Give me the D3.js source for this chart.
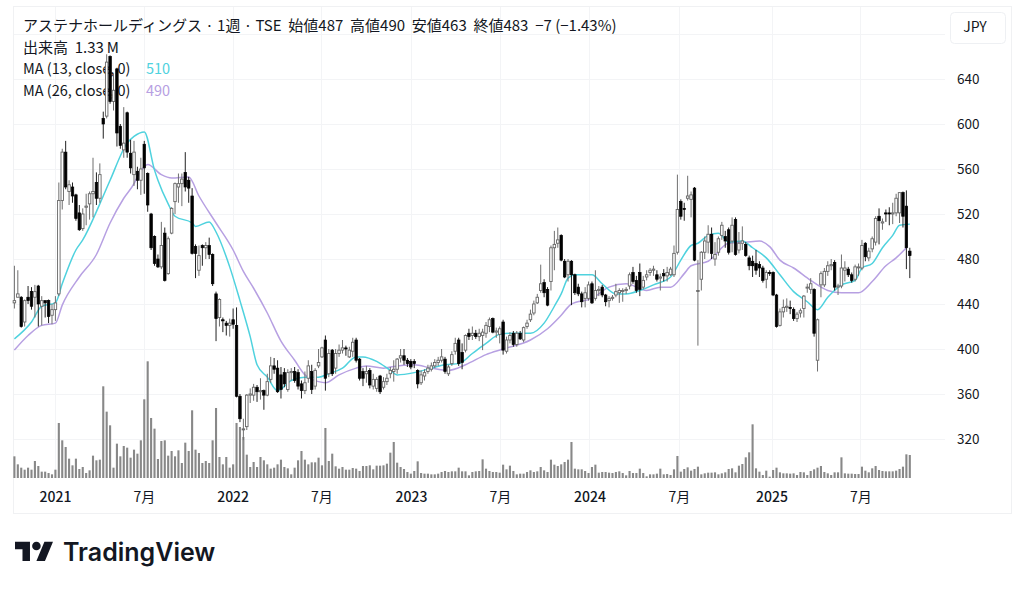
<!DOCTYPE html>
<html lang="ja">
<head>
<meta charset="utf-8">
<script type="text/javascript" src="https://cdn.jsdelivr.net/npm/d3@7"></script>
<style>
html, body { margin:0; padding:0; background:#fff; }
svg { display:block; }
text { font-family:"Noto Sans CJK JP","Noto Sans",sans-serif; fill:#131722; font-size:13.5px; }
.grid { stroke:#f3f4f6; stroke-width:1; shape-rendering:crispEdges; }
.frame { fill:none; stroke:#f0f1f3; stroke-width:1; shape-rendering:crispEdges; }
.up { fill:#fff; stroke:#666; stroke-width:.9; }
.down { fill:#000; stroke:#000; stroke-width:.7; }
.wup { stroke:#6f6f6f; stroke-width:1; }
.wdown { stroke:#222; stroke-width:1; }
.vol { fill:#888; }
.ma { fill:none; stroke-width:1.5; }
</style>
<script>
// weekly candles, bar 0 is about Oct 2020
var opens = [
441,446,446,424,446,451,446,456,438,443,
443,430,435,449,532,575,540,544,537,521,
507,526,529,538,548,534,605,607,660,620,
649,598,577,610,574,555,558,550,582,556,
520,500,480,473,503,467,503,531,544,547,
557,550,536,491,470,492,490,492,484,449,
428,426,423,421,426,421,358,329,331,359,
359,366,362,363,359,373,385,383,377,379,
364,379,380,379,369,363,374,380,367,385,
393,408,378,399,383,396,399,401,393,398,
408,391,380,378,381,367,365,376,366,371,
378,380,382,392,394,390,389,389,381,370,
376,380,382,385,388,390,391,378,387,398,
408,397,399,414,412,414,411,412,414,420,
427,415,413,424,398,408,414,404,414,408,
420,426,432,441,452,459,453,460,490,494,
501,478,466,478,466,455,449,445,445,458,
445,452,455,448,443,445,448,450,452,452,
456,468,461,468,455,464,468,470,466,463,
467,465,466,466,486,531,525,534,533,543,
452,462,486,495,502,480,486,501,500,506,
496,515,488,494,493,481,478,476,475,472,
462,468,468,448,421,433,437,437,435,427,
432,436,455,453,453,390,457,457,469,474,
477,455,456,470,471,466,462,473,472,494,
481,489,495,518,512,521,521,520,521,521,
539,527,487];
var highs = [
474,470,447,444,456,455,457,457,447,443,
444,440,447,548,578,585,550,548,538,528,
525,538,540,570,557,565,611,662,661,645,
650,600,615,611,586,585,562,570,585,557,
521,501,484,513,508,500,526,548,556,556,
575,553,543,493,492,493,495,499,485,451,
445,428,425,427,436,437,360,338,360,365,
369,368,374,364,378,393,392,390,384,383,
382,383,384,382,372,380,390,386,383,400,
402,412,400,400,400,404,408,403,402,410,
410,392,383,385,383,378,375,377,375,378,
384,390,392,400,400,392,391,391,382,381,
382,386,388,391,393,400,393,386,398,410,
410,405,413,418,420,417,418,418,424,428,
428,419,420,426,411,415,416,416,416,420,
426,435,443,449,475,462,455,492,505,508,
502,480,480,479,467,458,451,455,460,460,
470,456,457,449,447,448,458,454,454,455,
468,473,465,476,465,470,472,474,470,467,
471,473,473,492,555,533,530,554,540,544,
479,487,500,510,508,495,500,513,505,508,
517,517,504,509,495,483,483,488,478,474,
470,470,469,449,436,444,445,443,437,433,
436,448,458,463,454,427,469,472,478,480,
479,458,484,478,473,468,475,476,497,495,
490,500,518,525,516,524,526,530,538,539,
540,541,490];
var lows = [
436,446,419,420,440,435,428,420,421,428,
423,422,425,447,524,542,528,530,514,505,
505,510,515,517,528,530,587,605,618,612,
580,578,570,570,556,545,542,537,538,522,
488,474,472,471,460,466,502,520,530,527,
540,530,484,463,465,474,480,480,456,407,
420,415,412,411,418,357,335,319,328,352,
354,353,355,346,358,370,378,361,356,366,
362,372,370,364,356,360,370,360,364,383,
392,363,375,376,378,393,396,394,392,393,
388,372,367,370,365,364,362,360,364,368,
374,371,378,388,386,384,382,383,365,368,
372,378,380,383,385,388,378,376,385,395,
385,382,397,408,408,409,407,399,410,415,
414,410,405,395,396,405,402,402,408,406,
418,424,430,440,450,446,438,452,470,490,
478,463,460,439,448,447,437,437,443,440,
443,447,446,438,437,443,446,441,442,449,
453,458,450,447,453,461,465,465,460,452,
460,460,465,464,484,515,514,532,517,478,
403,452,480,485,480,474,483,497,490,484,
486,483,485,488,482,470,464,466,464,459,
454,465,447,419,420,428,433,431,425,424,
428,428,450,449,411,380,446,455,465,470,
452,448,454,460,464,459,460,465,470,478,
478,486,492,493,506,513,510,511,518,512,
508,471,463];
var closes = [
443,449,420,443,443,438,451,440,443,441,
429,435,441,532,575,544,546,536,516,506,
520,527,538,540,534,555,600,655,620,630,
592,581,583,575,561,575,550,560,561,528,
490,476,473,492,461,498,525,547,547,551,
544,543,485,485,483,490,492,484,458,427,
444,425,421,423,422,358,338,329,359,360,
366,362,363,359,371,385,382,362,364,369,
379,380,372,367,363,370,385,364,381,388,
401,374,396,378,396,399,401,400,399,406,
390,374,374,380,368,373,373,362,371,374,
381,382,391,394,390,387,384,387,369,377,
379,383,385,388,390,393,380,384,395,405,
387,388,412,411,414,411,414,415,421,426,
415,416,418,399,408,412,404,414,409,419,
423,431,440,446,458,450,439,490,493,497,
479,464,478,466,450,449,442,450,457,441,
452,453,448,442,445,446,451,452,452,453,
466,460,452,453,461,466,470,471,462,464,
465,468,471,485,524,518,524,536,537,479,
452,486,496,502,485,484,498,510,496,486,
510,484,494,496,483,474,474,470,472,461,
468,467,448,420,433,437,438,436,427,431,
434,447,455,458,414,426,467,469,474,475,
455,456,472,472,466,461,473,473,492,482,
487,498,516,514,513,520,520,521,534,539,
518,490,483];
// volume in roughly 10k shares
var volumes = [
130,82,62,50,62,50,102,72,38,38,
30,22,50,330,226,186,116,76,116,54,
66,30,46,134,106,110,550,398,316,62,
206,130,192,182,122,170,146,226,472,700,
360,296,114,222,226,134,162,130,166,90,
212,162,406,170,150,90,102,90,226,420,
126,82,126,62,82,330,306,246,140,66,
96,66,126,106,82,56,62,82,110,66,
58,22,62,106,162,110,82,94,94,122,
76,300,102,146,70,56,66,50,50,60,
56,42,72,72,76,52,74,74,76,86,
152,216,92,66,54,36,26,42,100,30,
26,26,22,22,26,36,42,36,40,40,
62,40,40,16,36,40,42,112,56,42,
36,36,32,80,52,74,42,22,26,26,
36,46,36,40,66,46,36,110,80,72,
82,96,110,216,56,52,52,42,30,66,
80,32,36,36,32,30,36,40,30,16,
42,30,30,56,30,10,22,22,26,56,
22,24,18,52,132,38,54,64,44,54,
68,22,28,32,32,34,22,28,34,54,
58,34,74,84,124,154,322,58,38,18,
44,8,48,62,34,28,28,26,28,18,
36,34,18,42,52,62,72,36,28,18,
34,34,124,28,26,26,24,24,68,44,
34,58,72,48,42,40,40,40,44,54,
68,142,138];

var ma13Bars = [0,5,8,12,14,18,20,25,28,33,35,38,41,42,45,47,52,53,57,59,63,66,69,71,74,77,81,85,89,92,96,100,102,106,110,112,117,122,126,130,134,138,142,146,151,155,158,160,162,164,169,172,176,179,183,187,192,195,198,200,203,206,209,213,216,220,224,228,232,235,238,242,246,248,251,254,257,259,262];
var ma13Values = [409,424,438,441,458,488,497,529,550,583,589,593,559,550,529,518,512,509,513,504,473,443,411,386,375,363,372,375,375,378,383,393,393,389,381,377,379,383,386,387,396,405,413,414,414,423,438,449,463,466,466,458,449,449,452,457,464,479,492,494,501,503,495,496,490,481,466,451,442,435,446,457,461,472,476,490,501,510,511];
var ma26Bars = [0,4,8,12,14,19,24,28,32,35,36,39,43,46,51,54,59,64,67,70,74,78,82,85,89,91,95,100,103,108,110,117,122,127,132,138,143,151,156,160,163,169,174,179,185,189,192,196,198,203,209,214,218,221,224,228,233,238,242,247,251,255,258,261];
var ma26Values = [399,412,421,423,439,464,484,512,534,547,553,564,555,552,553,536,512,488,469,454,432,407,390,377,371,370,377,383,385,383,384,386,383,381,386,395,400,408,418,430,440,445,455,458,452,455,455,467,474,478,494,495,496,491,479,472,461,452,450,450,460,474,481,490];

var priceTicks = [320,360,400,440,480,520,560,600,640];
var gridPrices = [320,360,400,440,480,520,560,600,640,680];
var timeBars = [12,38,64,90,116.2,142.2,168.4,194.6,221.7,247.7];
var timeLabels = ['2021','7月','2022','7月','2023','7月','2024','7月','2025','7月'];
var titleText = 'アステナホールディングス · 1週 · TSE\u00a0\u00a0始値487\u00a0\u00a0高値490\u00a0\u00a0安値463\u00a0\u00a0終値483\u00a0\u00a0−7 (−1.43%)';

function doChart(){
	var svg = d3.select('#chart').attr('width',1024).attr('height',590);
	var x = d3.scaleLinear().domain([0,262]).range([14.4,909.8]);
	var y = d3.scaleLinear().domain([320,640]).range([439,79]);
	var v = d3.scaleLinear().domain([0,700]).range([478,361.3]);
	var bars = d3.range(opens.length);

	svg.append('rect').attr('class','frame').attr('x',13.5).attr('y',6.5).attr('width',998).attr('height',507);
	svg.selectAll('line.gy').data(gridPrices).enter().append('line')
		.attr('class','grid gy').attr('x1',14).attr('x2',945)
		.attr('y1',function(d){return y(d);}).attr('y2',function(d){return y(d);});
	svg.selectAll('line.gx').data(timeBars).enter().append('line')
		.attr('class','grid gx').attr('y1',7).attr('y2',478)
		.attr('x1',function(d){return x(d);}).attr('x2',function(d){return x(d);});

	// legend sits under the candles
	svg.append('text').attr('x',23).attr('y',30.5).style('font-size','15px').text(titleText);
	svg.append('text').attr('x',23).attr('y',53).style('font-size','15px').text('出来高\u00a0\u00a01.33\u2009M');
	var legend = svg.selectAll('g.leg').data([['MA (13, close, 0)','510','#4fd2de',74],['MA (26, close, 0)','490','#b7a0e2',96]]).enter().append('g');
	legend.append('text').attr('x',23).attr('y',function(d){return d[3];}).style('font-size','14.5px').text(function(d){return d[0];});
	legend.append('text').attr('x',146).attr('y',function(d){return d[3];}).style('font-size','14.5px').style('fill',function(d){return d[2];}).text(function(d){return d[1];});

	svg.selectAll('rect.vol').data(bars).enter().append('rect')
		.attr('class','vol').attr('width',2.1)
		.attr('x',function(i){return x(i)-1.05;})
		.attr('y',function(i){return v(volumes[i]);})
		.attr('height',function(i){return v(0)-v(volumes[i]);});

	var line = d3.line().curve(d3.curveMonotoneX);
	svg.append('path').attr('class','ma').attr('stroke','#b7a0e2')
		.attr('d',line(ma26Bars.map(function(b,k){return [x(b),y(ma26Values[k])];})));
	svg.append('path').attr('class','ma').attr('stroke','#4fd2de')
		.attr('d',line(ma13Bars.map(function(b,k){return [x(b),y(ma13Values[k])];})));

	svg.selectAll('line.wick').data(bars).enter().append('line')
		.attr('class',function(i){return closes[i]>=opens[i]?'wick wup':'wick wdown';})
		.attr('x1',function(i){return x(i);}).attr('x2',function(i){return x(i);})
		.attr('y1',function(i){return y(highs[i]);}).attr('y2',function(i){return y(lows[i]);});
	svg.selectAll('rect.body').data(bars).enter().append('rect')
		.attr('class',function(i){return closes[i]>=opens[i]?'body up':'body down';})
		.attr('x',function(i){return x(i)-1.25;}).attr('width',2.5)
		.attr('y',function(i){return y(Math.max(opens[i],closes[i]));})
		.attr('height',function(i){return Math.max(1,Math.abs(y(opens[i])-y(closes[i])));});

	svg.selectAll('text.py').data(priceTicks).enter().append('text')
		.attr('class','py').attr('x',957).attr('y',function(d){return y(d)+4.5;}).text(function(d){return d;});
	svg.selectAll('text.tx').data(timeLabels).enter().append('text')
		.attr('class','tx').attr('text-anchor','middle').attr('y',502)
		.attr('x',function(d,i){return x(timeBars[i]);})
		.style('font-size','14px')
		.style('font-weight',function(d){return d.length==4?500:400;})
		.text(function(d){return d;});

	svg.append('rect').attr('x',950.5).attr('y',12.5).attr('width',55).attr('height',31).attr('rx',4)
		.attr('fill','#fff').attr('stroke','#eef0f3');
	svg.append('text').attr('x',975).attr('y',32).attr('text-anchor','middle').style('font-size','14px').text('JPY');

	// logo
	var logo = svg.append('g').attr('transform','translate(15,537.4) scale(1.07)').attr('fill','#131722');
	logo.append('path').attr('d','M14 22H7V11H0V4h14v18ZM28 22h-8l7.5-18h8L28 22Z');
	logo.append('circle').attr('cx',20).attr('cy',8).attr('r',4);
	svg.append('text').attr('x',63).attr('y',561).style('font-family','Inter').style('font-size','25px').style('font-weight',600).text('TradingView');
}
</script>
</head>
<body onload="doChart();">
<svg id="chart"></svg>
</body>
</html>
